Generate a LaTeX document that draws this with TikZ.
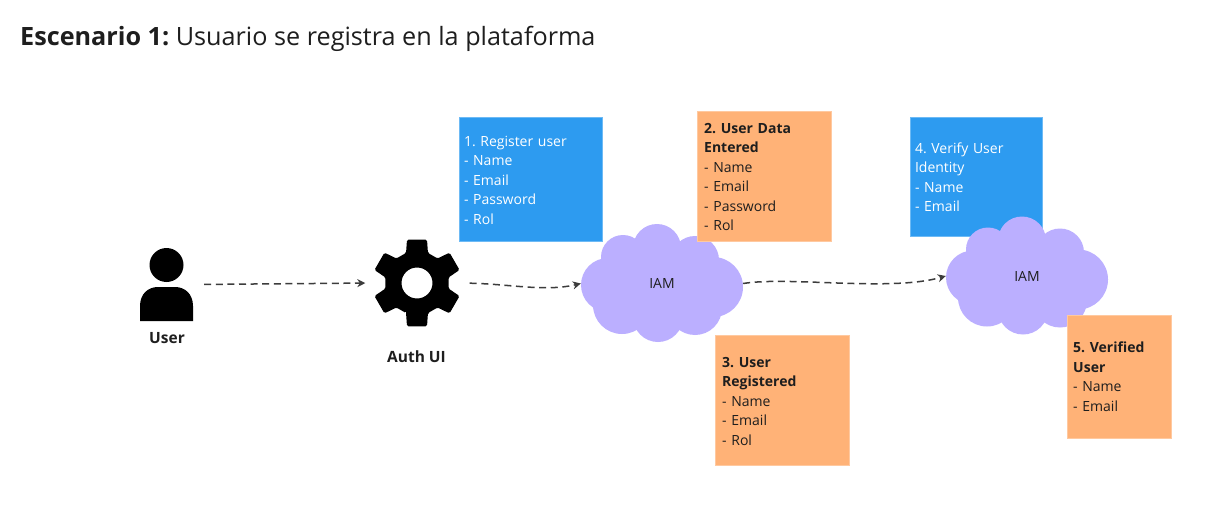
\documentclass[tikz,border=0pt]{standalone}
\usepackage{fontspec}
\setmainfont{Open Sans}
\usetikzlibrary{arrows.meta}

\definecolor{noteblue}{HTML}{2D9BF0}
\definecolor{noteblueedge}{HTML}{6DBAF5}
\definecolor{noteorange}{HTML}{FFB277}
\definecolor{noteorangeedge}{HTML}{FFC9A0}
\definecolor{cloudpurple}{HTML}{BBAFFF}
\definecolor{inkdark}{HTML}{1E1E1E}
\definecolor{flowgray}{HTML}{3C3C3C}

\tikzset{
	note/.style={anchor=north west, inner sep=0pt, align=left, font=\fontsize{14}{19.5}\selectfont\frenchspacing, execute at begin node=\rule{0pt}{12pt}},
	noteblue/.style={note, fill=noteblue, draw=noteblueedge, thin, text=white},
	noteorange/.style={note, fill=noteorange, draw=noteorangeedge, thin, text=inkdark},
	iam/.style={minimum width=162pt, minimum height=118pt, inner sep=0pt, text=inkdark, font=\fontsize{14}{16}\selectfont},
	actor/.style={text=inkdark, font=\fontsize{15.5}{18}\selectfont\bfseries},
	flow/.style={draw=flowgray, line width=1.5pt, dash pattern=on 7pt off 4.6pt, -{Stealth[length=8pt,width=8pt,inset=2.5pt]}}
}

% lobes of one cloud, #1 and #2 are the middle of it
\newcommand{\iamlobes}[2]{
	\foreach \dx/\dy/\rad in {-5/-35/24, -39/-26/22, 33/-23/24, -54/2/27, 51/4/30, -40/22/29, -4/34/25, 33/25/27, 0/0/45} {
		\fill[cloudpurple] (#1+\dx,#2+\dy) circle (\rad);
	}
}

\begin{document}
\begin{tikzpicture}[x=1pt, y=-1pt]
		\useasboundingbox[fill=white] (0,0) rectangle (1228,508);
		
		\node[anchor=base west, inner sep=0pt, text=inkdark, font=\fontsize{25.2}{28}\selectfont\frenchspacing] (title) at (20,46) {\textbf{Escenario 1:} Usuario se registra en la plataforma};
		
		% blue notes lie under the clouds
		\node[noteblue, minimum width=143.5pt, minimum height=124pt, text width=133.5pt] (register) at (458.8,117) {1. Register user\\- Name\\- Email\\- Password\\- Rol};
		\node[noteblue, minimum width=132.5pt, minimum height=118.5pt, text width=122.5pt] (verify) at (909.8,117) {4. Verify User\\Identity\\- Name\\- Email};
		
		\iamlobes{662}{283}
		\iamlobes{1027}{275.5}
		\node[iam] (iamone) at (662,283.5) {IAM};
		\node[iam] (iamtwo) at (1027,276) {IAM};
		
		\node[noteorange, minimum width=133.5pt, minimum height=130pt, text width=119.5pt] (entered) at (697,111) {\textbf{2. User Data}\\\textbf{Entered}\\- Name\\- Email\\- Password\\- Rol};
		\node[noteorange, minimum width=133.5pt, minimum height=130pt, text width=119.5pt] (registered) at (715,335) {\textbf{3. User}\\\textbf{Registered}\\- Name\\- Email\\- Rol};
		\node[noteorange, minimum width=103.5pt, minimum height=123pt, text width=91.5pt] (verified) at (1067,314.6) {\textbf{5. Verified}\\\textbf{User}\\- Name\\- Email};
		
		% user icon
		\node[minimum width=53pt, minimum height=74pt, inner sep=0pt] (user) at (166.5,284.5) {};
		\fill[black] (166.5,265) circle (17);
		\fill[black] (140,321) -- (140,306) .. controls (140,294) and (148,287) .. (158,287) -- (175,287) .. controls (185,287) and (193,294) .. (193,306) -- (193,321) -- cycle;
		\node[actor] (userlabel) at (167,338) {User};
		
		% gear icon
		\node[minimum width=86pt, minimum height=88pt, inner sep=0pt] (gear) at (417,283) {};
		\fill[black, even odd rule, rounded corners=1.5pt] ([shift={(gear.center)}]110:32)
			\foreach \a in {90,30,330,270,210,150} {
				-- ([shift={(gear.center)}]\a+20:32) -- ([shift={(gear.center)}]\a+13:44.5) -- ([shift={(gear.center)}]\a-13:44.5) -- ([shift={(gear.center)}]\a-20:32)
			} -- cycle
			(gear.center) circle (15.5);
		\node[actor] (gearlabel) at (416.5,357) {Auth UI};
		
		\draw[flow, shorten <=11pt, shorten >=8.5pt] (user.east) -- (gear.west);
		\draw[flow, shorten <=9.5pt] (gear.east) .. controls (510,284) and (545,292) .. (iamone.west);
		\draw[flow] (iamone.east) .. controls (790,276) and (890,292) .. (iamtwo.west);
	\end{tikzpicture}
\end{document}
